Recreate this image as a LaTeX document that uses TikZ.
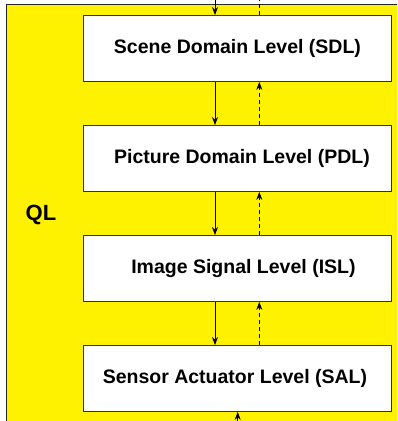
\documentclass[tikz,border=0pt]{standalone}
\usepackage{fontspec}
\setmainfont{Liberation Sans}
\usetikzlibrary{arrows.meta}
\begin{document}
\begin{tikzpicture}[x=1pt,y=-1pt,
  levelbox/.style={draw=black!80,line width=0.9pt,fill=white,minimum width=308pt,minimum height=66pt,inner sep=0pt,anchor=north west},
  leveltext/.style={font=\fontsize{19.5}{22}\selectfont\bfseries,inner sep=0pt},
  downarrow/.style={line width=0.8pt,-{Stealth[length=8pt,width=6pt]}},
  uparrow/.style={line width=0.8pt,dash pattern=on 4pt off 3pt,-{Stealth[length=8pt,width=6pt]}},
  upline/.style={line width=0.8pt,dash pattern=on 4pt off 3pt}]
\useasboundingbox (0,0) rectangle (397,421);
\clip (0,0) rectangle (397,421);
\draw[fill=yellow,line width=1.5pt,draw=black!85] (6.5,4.5) rectangle (405,430);
\node[font=\fontsize{22}{24}\selectfont\bfseries,inner sep=0pt] (ql) at (41,215) {QL};
\node[levelbox] (sdl) at (83,15) {};
\node[levelbox] (pdl) at (83,125) {};
\node[levelbox] (isl) at (83,235) {};
\node[levelbox] (sal) at (83,345) {};
\node[leveltext] (sdlt) at ([xshift=0pt]sdl.center) {Scene Domain Level (SDL)};
\node[leveltext] (pdlt) at ([xshift=4.5pt]pdl.center) {Picture Domain Level (PDL)};
\node[leveltext] (islt) at ([xshift=6pt]isl.center) {Image Signal Level (ISL)};
\node[leveltext] (salt) at ([xshift=-2.5pt]sal.center) {Sensor Actuator Level (SAL)};
\coordinate (tin) at (215,0);
\coordinate (tout) at (259.3,0);
\coordinate (bin) at (237.7,421);
\draw[downarrow] (tin) -- (sdl.north -| tin);
\draw[upline] (sdl.north -| tout) -- (tout);
\draw[downarrow] (sdl.south -| tin) -- (pdl.north -| tin);
\draw[uparrow] (pdl.north -| tout) -- (sdl.south -| tout);
\draw[downarrow] (pdl.south -| tin) -- (isl.north -| tin);
\draw[uparrow] (isl.north -| tout) -- (pdl.south -| tout);
\draw[downarrow] (isl.south -| tin) -- (sal.north -| tin);
\draw[uparrow] (sal.north -| tout) -- (isl.south -| tout);
\draw[downarrow] (bin) -- (sal.south -| bin);
\end{tikzpicture}
\end{document}
